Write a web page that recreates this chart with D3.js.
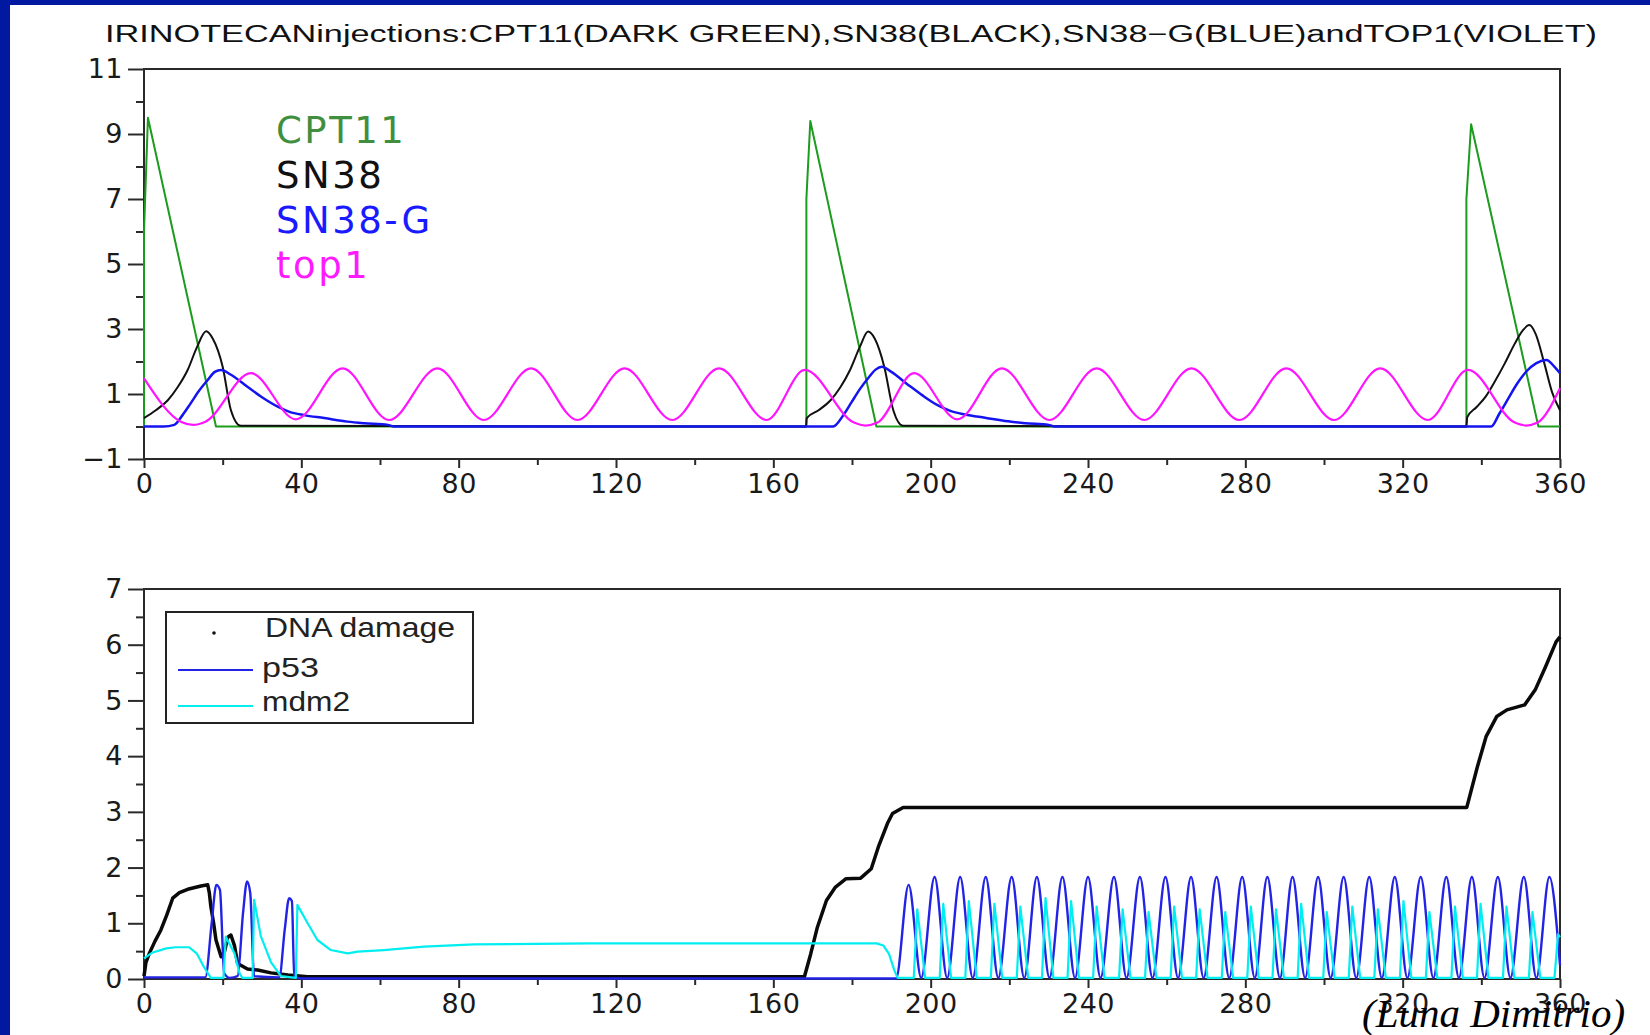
<!DOCTYPE html>
<html>
<head>
<meta charset="utf-8">
<script src="https://cdn.jsdelivr.net/npm/d3@7"></script>
<style>
  body { margin: 0; background: #fff; }
  svg { display: block; }
</style>
</head>
<body>
<script>
// ---- data: [time (h), value] ----
const title = "IRINOTECANinjections:CPT11(DARK GREEN),SN38(BLACK),SN38\u2212G(BLUE)andTOP1(VIOLET)";
const xTicks = [0, 40, 80, 120, 160, 200, 240, 280, 320, 360];
const xMinor = [20, 60, 100, 140, 180, 220, 260, 300, 340];
const topTicks = [-1, 1, 3, 5, 7, 9, 11];
const topMinor = [0, 2, 4, 6, 8, 10];
const botTicks = [0, 1, 2, 3, 4, 5, 6, 7];
const botMinor = [0.5, 1.5, 2.5, 3.5, 4.5, 5.5, 6.5];

const topNames = ["CPT11", "SN38", "SN38-G", "top1"];
const botNames = ["DNA damage", "p53", "mdm2"];

const cpt11 = [[0,0],[0,6],[1,9.5],[18.3,0],[168.4,0],[168.4,7],[169.4,9.4],[186.2,0],
  [336.2,0],[336.2,7],[337.4,9.3],[354.5,0],[360,0]];

const sn38 = [[0,0.26],[3,0.5],[6,0.8],[8.5,1.2],[11.1,1.74],[13.5,2.45],[15.8,2.93],[17.5,2.7],
  [20,1.84],[22.1,0.5],[24.6,0.02],[168.3,0],[168.5,0.26],[171.5,0.5],[174.5,0.8],[177,1.2],
  [179.5,1.74],[182,2.45],[184.1,2.92],[185.8,2.7],[188.2,1.84],[190.5,0.5],[193,0.02],
  [336.2,0],[336.4,0.28],[338.8,0.6],[341.1,0.92],[343.5,1.4],[346,1.95],[348.5,2.55],
  [350.5,2.95],[352.2,3.12],[353.8,2.85],[356,1.95],[358,1.05],[360,0.5]];

const sn38g = [[0,0],[5,0],[7.7,0.05],[9.8,0.35],[11.9,0.72],[14,1.1],[16.2,1.43],[18,1.68],
  [19.6,1.74],[22,1.6],[26.3,1.22],[30,0.9],[34,0.61],[37,0.45],[40.7,0.35],[45.8,0.26],
  [51.7,0.15],[56,0.1],[62,0.05],[63.5,0],[175.2,0],[177.8,0.35],[179.9,0.75],[182,1.15],
  [184.2,1.5],[186,1.75],[187.6,1.84],[190,1.68],[194.3,1.28],[198,0.95],[202,0.64],[205,0.48],
  [208.7,0.37],[213.8,0.27],[219.7,0.16],[224,0.1],[230,0.05],[231.5,0],[342.5,0],[344.6,0.4],
  [346.8,0.85],[349,1.3],[351.5,1.7],[354,1.95],[356.6,2.05],[358.5,1.85],[360,1.64]];

const top1 = [[0,1.48],[9.5,0.14],[12.5,0.05],[15.5,0.14],[27.2,1.64],[38.6,0.22],[50.5,1.79],
  [62.3,0.2],[74.6,1.79],[86.4,0.2],[98.4,1.79],[110.2,0.2],[122.2,1.79],[134.3,0.2],[146.2,1.79],
  [158.3,0.2],[168,1.74],[180.5,0.12],[183.4,0.03],[186.5,0.12],[195.8,1.64],[206.8,0.22],
  [218.1,1.79],[230.2,0.2],[242.2,1.79],[254.3,0.2],[266.3,1.79],[278.5,0.2],[290.4,1.79],
  [302.6,0.2],[314.3,1.79],[326.4,0.2],[336.6,1.74],[348.5,0.12],[351.4,0.03],[354.3,0.12],[360,1.18]];

const dnaDamage = [[0,0.05],[0.5,0.3],[1.35,0.46],[2.8,0.68],[4.3,0.88],[5.8,1.15],[7.3,1.45],
  [9,1.55],[11.1,1.61],[14.5,1.67],[16.2,1.69],[16.6,1.55],[17,1.3],[17.7,1.0],[18.3,0.7],
  [19.6,0.4],[20.5,0.5],[21.3,0.75],[22.1,0.79],[23,0.6],[23.8,0.28],[26.3,0.18],[28.9,0.16],
  [32.3,0.11],[36.6,0.07],[41.6,0.04],[167.9,0.04],[169.5,0.45],[171.2,0.93],[173.5,1.41],
  [175.8,1.65],[178.5,1.8],[182.2,1.81],[184.9,1.98],[186.7,2.37],[189,2.79],[190.3,2.97],
  [193,3.08],[336.3,3.08],[339,3.81],[341.2,4.35],[343.9,4.71],[346.5,4.83],[351,4.92],
  [353.7,5.19],[356.3,5.6],[359,6.05],[360,6.14]];

const p53 = [[0,0.03],[15.6,0.03],[17.2,1.0],[18.4,1.69],[19.3,1.6],[20.4,0.1],[21.8,0.02],
  [23.8,0.05],[25.2,1.2],[26.2,1.75],[27,1.55],[28,0.05],[34.4,0.03],[35.8,0.9],[36.9,1.45],
  [37.6,1.4],[38.2,0.05],[40,0.01],[191.2,0.01],
  [194.4,1.69],[197.6,0.02],[201.0,1.83],[204.2,0.02],[207.5,1.83],[210.7,0.02],[214.0,1.83],
  [217.2,0.02],[220.6,1.83],[223.8,0.02],[227.0,1.83],[230.2,0.02],[233.5,1.83],[236.7,0.02],
  [240.0,1.83],[243.2,0.02],[246.6,1.83],[249.8,0.02],[253.2,1.83],[256.4,0.02],[259.7,1.83],
  [262.9,0.02],[266.2,1.83],[269.4,0.02],[272.7,1.83],[275.9,0.02],[279.2,1.83],[282.4,0.02],
  [285.6,1.83],[288.8,0.02],[292.0,1.83],[295.2,0.02],[298.5,1.83],[301.7,0.02],[305.0,1.83],
  [308.2,0.02],[311.5,1.83],[314.7,0.02],[318.0,1.83],[321.2,0.02],[324.6,1.83],[327.8,0.02],
  [331.1,1.83],[334.3,0.02],[337.6,1.83],[340.8,0.02],[344.2,1.83],[347.4,0.02],[350.8,1.83],
  [354.0,0.02],[357.3,1.83],[360,0.25]];

const mdm2 = [[0,0.37],[2,0.47],[5.7,0.55],[8,0.57],[11.5,0.57],[13.5,0.45],[15.2,0.22],[17,0.02],
  [20.2,0.02],[20.8,0.76],[23,0.46],[24.3,0.1],[25,0.02],[27.6,0.02],[28,1.42],[29.7,0.77],
  [32.3,0.3],[34.8,0.05],[38.6,0.02],[39,1.33],[41.6,1.0],[44.1,0.7],[47.5,0.52],[51.8,0.46],
  [54.3,0.49],[61,0.52],[71.2,0.58],[83.9,0.62],[113.6,0.64],[186.2,0.64],[188,0.6],[189.4,0.45],
  [190.8,0.15],[191.6,0.02],
  [195.7,0.02],[196.6,1.25],[198.6,0.02],[202.3,0.02],[203.2,1.35],[205.2,0.02],
  [208.8,0.02],[209.7,1.4],[211.7,0.02],[215.3,0.02],[216.2,1.35],[218.2,0.02],
  [221.9,0.02],[222.8,1.3],[224.8,0.02],[228.3,0.02],[229.2,1.45],[231.2,0.02],
  [234.8,0.02],[235.7,1.4],[237.7,0.02],[241.3,0.02],[242.2,1.3],[244.2,0.02],
  [247.9,0.02],[248.8,1.25],[250.8,0.02],[254.5,0.02],[255.4,1.2],[257.4,0.02],
  [261.0,0.02],[261.9,1.3],[263.9,0.02],[267.5,0.02],[268.4,1.25],[270.4,0.02],
  [274.0,0.02],[274.9,1.2],[276.9,0.02],[280.5,0.02],[281.4,1.3],[283.4,0.02],
  [286.9,0.02],[287.8,1.25],[289.8,0.02],[293.3,0.02],[294.2,1.35],[296.2,0.02],
  [299.8,0.02],[300.7,1.2],[302.7,0.02],[306.3,0.02],[307.2,1.3],[309.2,0.02],
  [312.8,0.02],[313.7,1.25],[315.7,0.02],[319.3,0.02],[320.2,1.4],[322.2,0.02],
  [325.9,0.02],[326.8,1.2],[328.8,0.02],[332.4,0.02],[333.3,1.3],[335.3,0.02],
  [338.9,0.02],[339.8,1.35],[341.8,0.02],[345.5,0.02],[346.4,1.3],[348.4,0.02],
  [352.1,0.02],[353.0,1.2],[355.0,0.02],[358.6,0.02],[359.5,0.8],[360,0.75]];

// ---- drawing ----
const W = 1650, H = 1035;
const svg = d3.select("body").append("svg").attr("width", W).attr("height", H);

svg.append("rect").attr("width", W).attr("height", H).attr("fill", "#fff");
svg.append("rect").attr("x", 0).attr("y", 0).attr("width", 10).attr("height", H).attr("fill", "#0019a0");
svg.append("rect").attr("x", 0).attr("y", 0).attr("width", W).attr("height", 5).attr("fill", "#0019a0");

svg.append("text")
  .attr("x", 105).attr("y", 42)
  .attr("textLength", 1492).attr("lengthAdjust", "spacingAndGlyphs")
  .style("font-family", "Liberation Sans, Arial, sans-serif")
  .style("font-size", "23px").attr("fill", "#111")
  .text(title);

const x = d3.scaleLinear().domain([0, 360]).range([144, 1560]);
const yTop = d3.scaleLinear().domain([-1, 11]).range([459, 69]);
const yBot = d3.scaleLinear().domain([0, 7]).range([979, 589]);

const tickFont = "DejaVu Sans, sans-serif";

function drawAxes(y, major, minor, fmt) {
  const g = svg.append("g");
  // frame
  g.append("rect")
    .attr("x", x(0)).attr("y", y.range()[1])
    .attr("width", x(360) - x(0)).attr("height", y.range()[0] - y.range()[1])
    .attr("fill", "none").attr("stroke", "#2a2a2a").attr("stroke-width", 2);

  const bottom = y.range()[0];
  g.append("g").attr("transform", `translate(0,${bottom})`)
    .call(d3.axisBottom(x).tickValues(xTicks).tickSize(9).tickPadding(6));
  g.append("g").attr("transform", `translate(0,${bottom})`)
    .call(d3.axisBottom(x).tickValues(xMinor).tickSize(6).tickFormat(""));

  g.append("g").attr("transform", `translate(${x(0)},0)`)
    .call(d3.axisLeft(y).tickValues(major).tickSize(16).tickPadding(5).tickFormat(fmt));
  g.append("g").attr("transform", `translate(${x(0)},0)`)
    .call(d3.axisLeft(y).tickValues(minor).tickSize(8).tickFormat(""));

  g.selectAll(".domain").remove();
  g.selectAll(".tick line").attr("stroke", "#2a2a2a").attr("stroke-width", 2);
  g.selectAll(".tick text")
    .style("font-family", tickFont).style("font-size", "27px")
    .style("letter-spacing", "0.5px").attr("fill", "#1a1a1a");
  return g;
}

drawAxes(yTop, topTicks, topMinor, d3.format("d"));
drawAxes(yBot, botTicks, botMinor, d3.format("d"));

function drawLine(y, data, color, width, curve) {
  svg.append("path")
    .datum(data)
    .attr("fill", "none")
    .attr("stroke", color)
    .attr("stroke-width", width)
    .attr("stroke-linejoin", "round")
    .attr("d", d3.line().x(d => x(d[0])).y(d => y(d[1])).curve(curve));
}

// upper panel
drawLine(yTop, cpt11, "#1c9c1c", 2, d3.curveLinear);
drawLine(yTop, sn38, "#111", 2, d3.curveMonotoneX);
drawLine(yTop, sn38g, "#1414f0", 2.5, d3.curveMonotoneX);
drawLine(yTop, top1, "#ff14ff", 2.2, d3.curveMonotoneX);

const topColors = ["#3f8f3f", "#111", "#1a1aff", "#ff19ff"];
svg.append("g").selectAll("text")
  .data(topNames)
  .join("text")
  .attr("x", 276)
  .attr("y", (d, i) => 143 + i * 45)
  .attr("fill", (d, i) => topColors[i])
  .style("font-family", "DejaVu Sans, sans-serif")
  .style("font-size", "37px")
  .style("letter-spacing", "2.5px")
  .text(d => d);

// lower panel
drawLine(yBot, dnaDamage, "#0a0a0a", 3.5, d3.curveLinear);
drawLine(yBot, p53, "#2323e6", 2.4, d3.curveMonotoneX);
drawLine(yBot, mdm2, "#00eef0", 2.2, d3.curveLinear);

const leg = svg.append("g");
leg.append("rect").attr("x", 166).attr("y", 612).attr("width", 307).attr("height", 111)
  .attr("fill", "#fff").attr("stroke", "#222").attr("stroke-width", 2);
leg.append("circle").attr("cx", 214).attr("cy", 633).attr("r", 1.8).attr("fill", "#111");
leg.append("line").attr("x1", 178).attr("x2", 253).attr("y1", 670).attr("y2", 670)
  .attr("stroke", "#2323e6").attr("stroke-width", 2);
leg.append("line").attr("x1", 178).attr("x2", 253).attr("y1", 706).attr("y2", 706)
  .attr("stroke", "#00eef0").attr("stroke-width", 2);
const legY = [637, 677, 711];
const legW = [190, 57, 88];
const legX = [265, 262, 262];
leg.selectAll("text")
  .data(botNames)
  .join("text")
  .attr("x", (d, i) => legX[i])
  .attr("y", (d, i) => legY[i])
  .attr("textLength", (d, i) => legW[i])
  .attr("lengthAdjust", "spacingAndGlyphs")
  .style("font-family", "Liberation Sans, Arial, sans-serif")
  .style("font-size", "28px")
  .attr("fill", "#222")
  .text(d => d);

// credit, drawn over the axis labels as in the source slide
svg.append("text")
  .attr("x", 1362).attr("y", 1027)
  .style("font-family", "Liberation Serif, Times New Roman, serif")
  .style("font-style", "italic")
  .style("font-size", "41px")
  .attr("fill", "#000")
  .text("(Luna Dimitrio)");
</script>
</body>
</html>
